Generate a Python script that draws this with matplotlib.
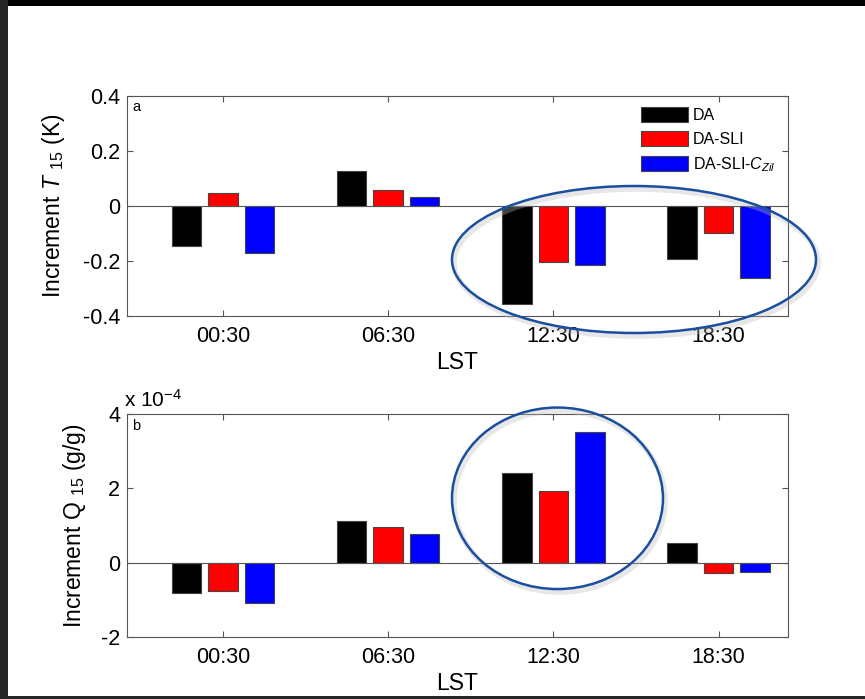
import matplotlib
matplotlib.use("Agg")
import matplotlib.pyplot as plt
import numpy as np
from matplotlib.patches import Rectangle, Ellipse, Patch
from matplotlib.ticker import FuncFormatter

plt.rcParams['font.family'] = ['Liberation Sans', 'DejaVu Sans']
plt.rcParams['mathtext.fontset'] = 'custom'
plt.rcParams['mathtext.rm'] = 'Liberation Sans'
plt.rcParams['mathtext.it'] = 'Liberation Sans:italic'

categories = ["00:30", "06:30", "12:30", "18:30"]
series_names = ["DA", "DA-SLI", "DA-SLI-$C_{Zil}$"]
colors = ["#000000", "#ff0000", "#0000ff"]

# Panel a: increment T15 (K)
t15_da = [-0.145, 0.126, -0.355, -0.194]
t15_sli = [0.049, 0.058, -0.202, -0.099]
t15_czil = [-0.171, 0.033, -0.213, -0.26]

# Panel b: increment Q15 (g/g) in units of 1e-4
q15_da = [-0.82, 1.12, 2.41, 0.52]
q15_sli = [-0.76, 0.95, 1.94, -0.27]
q15_czil = [-1.08, 0.77, 3.51, -0.24]

W, H = 865, 699
fig = plt.figure(figsize=(W / 100, H / 100), dpi=100)
fig.patch.set_facecolor("white")

def fx(px):
    return px / W

def fy(py):
    return 1 - py / H

TICK_FS = 15.5
LABEL_FS = 16.5

def style_axes(ax):
    for s in ax.spines.values():
        s.set_color("#555555")
        s.set_linewidth(0.8)
    ax.tick_params(direction="in", length=4, width=0.8, color="#555555",
                   top=True, right=True, labelsize=TICK_FS, labelcolor="black")
    ax.tick_params(axis="x", pad=7)
    ax.tick_params(axis="y", pad=5)

def bars(ax, data):
    x = np.arange(1, len(categories) + 1)
    offs = [-0.221, 0.0, 0.221]
    for vals, c, o in zip(data, colors, offs):
        ax.bar(x + o, vals, width=0.178, color=c, edgecolor="#444444",
               linewidth=0.8, zorder=2)
    ax.axhline(0, color="#555555", linewidth=0.8, zorder=3)
    ax.set_xticks(x)
    ax.set_xticklabels(categories)
    ax.set_xlim(0.42, 4.42)

fmt = FuncFormatter(lambda v, p: ("%g" % v).replace("\u2212", "-"))

# Panel a
axa = fig.add_axes([fx(127), fy(316), fx(788) - fx(127), fy(96) - fy(316)])
bars(axa, [t15_da, t15_sli, t15_czil])
axa.set_ylim(-0.4, 0.4)
axa.set_yticks([-0.4, -0.2, 0, 0.2, 0.4])
axa.yaxis.set_major_formatter(fmt)
style_axes(axa)
axa.set_xlabel("LST", fontsize=LABEL_FS, labelpad=3)
axa.set_ylabel("Increment $\\mathit{T}$ $_{15}$ (K)", fontsize=LABEL_FS)
axa.yaxis.set_label_coords(-0.091, 0.5)
axa.text(0.008, 0.93, "a", transform=axa.transAxes, fontsize=10.5)
handles = [Patch(facecolor=c, edgecolor="#444444", linewidth=0.8) for c in colors]
leg = axa.legend(handles, series_names, loc="upper right",
                 bbox_to_anchor=(0.995, 0.995), frameon=False, fontsize=11.5,
                 handlelength=2.9, handleheight=1.1, handletextpad=0.3,
                 labelspacing=0.5, borderaxespad=0.2)

# Panel b
axb = fig.add_axes([fx(127), fy(637), fx(788) - fx(127), fy(414) - fy(637)])
bars(axb, [q15_da, q15_sli, q15_czil])
axb.set_ylim(-2, 4)
axb.set_yticks([-2, 0, 2, 4])
axb.yaxis.set_major_formatter(fmt)
style_axes(axb)
axb.set_xlabel("LST", fontsize=LABEL_FS, labelpad=3)
axb.set_ylabel("Increment Q $_{15}$ (g/g)", fontsize=LABEL_FS)
axb.yaxis.set_label_coords(-0.059, 0.5)
axb.text(0.008, 0.93, "b", transform=axb.transAxes, fontsize=10.5)
fig.text(fx(124), fy(407), "x 10$^{-4}$", fontsize=15, ha="left", va="baseline")

# Highlight ellipses (annotation overlay)
ell_col = "#1a4f9f"
for cx, cy, w, h in [(634, 259.5, 364, 147), (557.5, 498.3, 211, 181.5)]:
    sh = Ellipse((fx(cx + 2), fy(cy + 3)), fx(w), h / H, transform=fig.transFigure,
                 fill=False, edgecolor="#bbbbbb", linewidth=4, alpha=0.35, zorder=9)
    fig.add_artist(sh)
    e = Ellipse((fx(cx), fy(cy)), fx(w), h / H, transform=fig.transFigure,
                fill=False, edgecolor=ell_col, linewidth=1.8, zorder=10)
    fig.add_artist(e)

# Dark frame bands of the screenshot
fig.add_artist(Rectangle((0, fy(6)), 1, 6 / H, transform=fig.transFigure,
                         facecolor="black", edgecolor="none", zorder=20))
fig.add_artist(Rectangle((0, 0), 8 / W, 1, transform=fig.transFigure,
                         facecolor="#262626", edgecolor="none", zorder=20))
fig.add_artist(Rectangle((0, 0), 1, 3 / H, transform=fig.transFigure,
                         facecolor="#262626", edgecolor="none", zorder=20))

fig.savefig("out.png", dpi=100, facecolor=fig.get_facecolor())
